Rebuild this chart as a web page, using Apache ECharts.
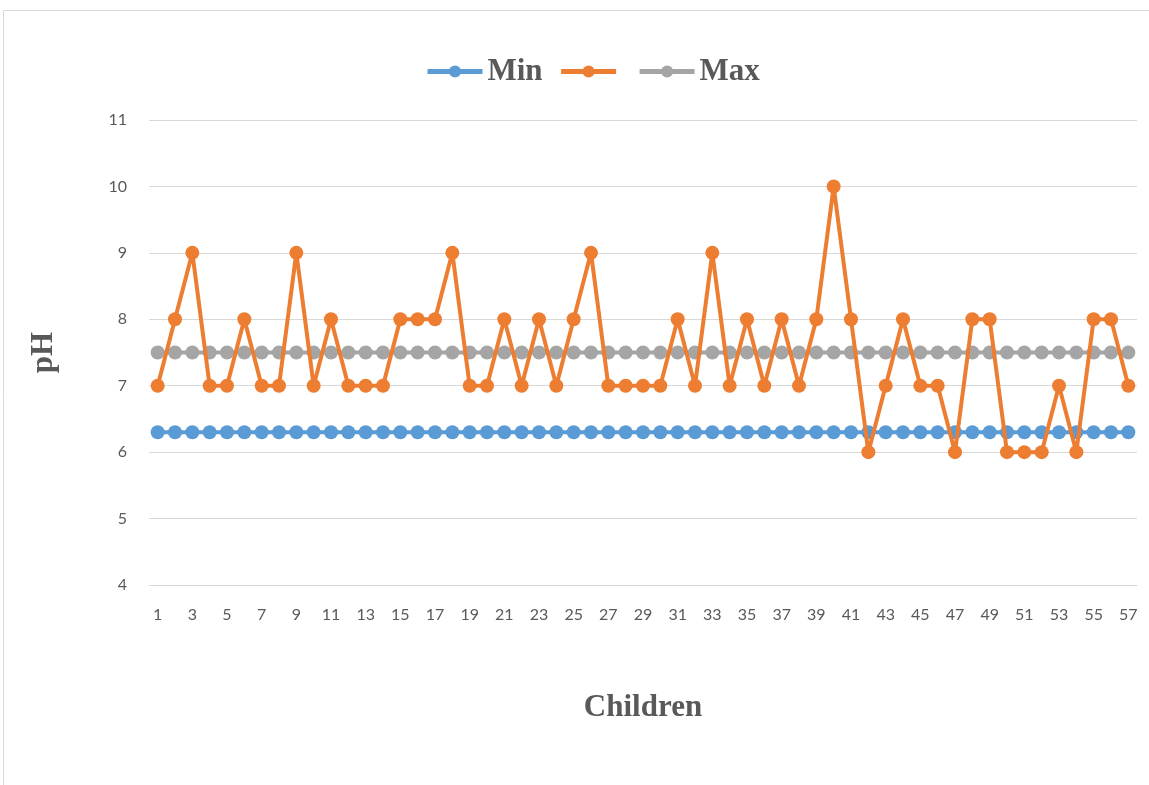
<!DOCTYPE html>
<html>
<head>
<meta charset="utf-8">
<script src="https://cdn.jsdelivr.net/npm/echarts@6/dist/echarts.min.js"></script>
<style>html,body{margin:0;padding:0;background:#fff;}#chart{width:1149px;height:785px;}</style>
</head>
<body>
<div id="chart"></div>
<script>
const categories = Array.from({length: 57}, (_, i) => String(i + 1));
const minValues = [6.3,6.3,6.3,6.3,6.3,6.3,6.3,6.3,6.3,6.3,6.3,6.3,6.3,6.3,6.3,6.3,6.3,6.3,6.3,6.3,6.3,6.3,6.3,6.3,6.3,6.3,6.3,6.3,6.3,6.3,6.3,6.3,6.3,6.3,6.3,6.3,6.3,6.3,6.3,6.3,6.3,6.3,6.3,6.3,6.3,6.3,6.3,6.3,6.3,6.3,6.3,6.3,6.3,6.3,6.3,6.3,6.3];
const phValues = [7,8,9,7,7,8,7,7,9,7,8,7,7,7,8,8,8,9,7,7,8,7,8,7,8,9,7,7,7,7,8,7,9,7,8,7,8,7,8,10,8,6,7,8,7,7,6,8,8,6,6,6,7,6,8,8,7];
const maxValues = [7.5,7.5,7.5,7.5,7.5,7.5,7.5,7.5,7.5,7.5,7.5,7.5,7.5,7.5,7.5,7.5,7.5,7.5,7.5,7.5,7.5,7.5,7.5,7.5,7.5,7.5,7.5,7.5,7.5,7.5,7.5,7.5,7.5,7.5,7.5,7.5,7.5,7.5,7.5,7.5,7.5,7.5,7.5,7.5,7.5,7.5,7.5,7.5,7.5,7.5,7.5,7.5,7.5,7.5,7.5,7.5,7.5];
const seriesNames = ['Min', '\u200b', 'Max'];

const chart = echarts.init(document.getElementById('chart'));
const serifBold = {fontFamily: '"Liberation Serif", "DejaVu Serif", serif', fontWeight: 'bold', fontSize: 31, color: '#595959'};
chart.setOption({
  animation: false,
  backgroundColor: '#fff',
  graphic: [{
    type: 'rect', left: 1, top: 8, shape: {width: 1200, height: 800},
    style: {fill: 'none', stroke: '#d9d9d9', lineWidth: 1}, silent: true
  }],
  legend: {
    top: 51, left: 420,
    itemWidth: 55, itemHeight: 15, itemGap: 16,
    lineStyle: {width: 5},
    textStyle: serifBold,
    data: seriesNames
  },
  grid: {left: 149, right: 12, top: 120, bottom: 200},
  xAxis: {
    type: 'category', data: categories, boundaryGap: true,
    name: 'Children', nameLocation: 'middle', nameGap: 107,
    nameTextStyle: serifBold,
    axisLine: {show: true, lineStyle: {color: '#d9d9d9', width: 1}},
    axisTick: {show: false},
    axisLabel: {interval: 1, color: '#595959', fontSize: 16, fontFamily: 'Lato, sans-serif', margin: 22}
  },
  yAxis: {
    type: 'value', min: 4, max: 11, interval: 1,
    name: 'pH', nameLocation: 'middle', nameGap: 90, nameRotate: 90,
    nameTextStyle: serifBold,
    axisLine: {show: false}, axisTick: {show: false},
    axisLabel: {color: '#595959', fontSize: 16, fontFamily: 'Lato, sans-serif', margin: 22},
    splitLine: {lineStyle: {color: '#d9d9d9', width: 1}}
  },
  series: [
    {name: seriesNames[0], type: 'line', data: minValues, symbol: 'circle', symbolSize: 14, showAllSymbol: true,
     itemStyle: {color: '#5B9BD5'}, lineStyle: {color: '#5B9BD5', width: 4}, z: 2},
    {name: seriesNames[1], type: 'line', data: phValues, symbol: 'circle', symbolSize: 14, showAllSymbol: true,
     itemStyle: {color: '#ED7D31'}, lineStyle: {color: '#ED7D31', width: 4}, z: 4},
    {name: seriesNames[2], type: 'line', data: maxValues, symbol: 'circle', symbolSize: 14, showAllSymbol: true,
     itemStyle: {color: '#A5A5A5'}, lineStyle: {color: '#A5A5A5', width: 4}, z: 3}
  ]
});
</script>
</body>
</html>
